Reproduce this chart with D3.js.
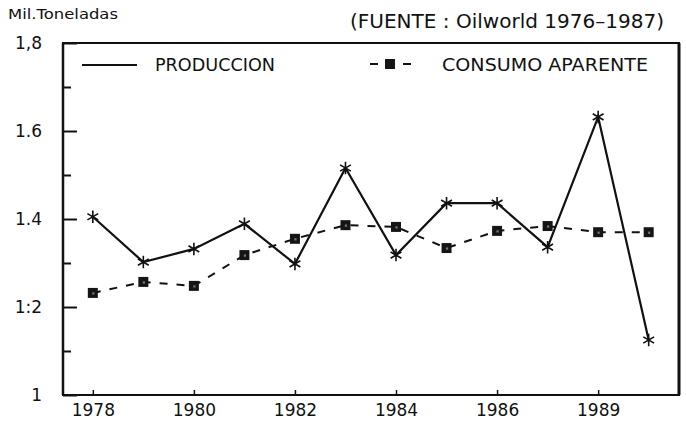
<!DOCTYPE html>
<html>
<head>
<meta charset="utf-8">
<script src="https://cdn.jsdelivr.net/npm/d3@7"></script>
<style>
  html, body { margin: 0; padding: 0; background: #fff; }
  svg { display: block; }
  text { font-family: "DejaVu Sans", sans-serif; fill: #111; }
</style>
</head>
<body>
<svg id="chart" width="686" height="423"></svg>
<script>
// ---- data ----
const years = [1978, 1979, 1980, 1981, 1982, 1983, 1984, 1985, 1986, 1987, 1988, 1989];
const produccion = [1.405, 1.302, 1.332, 1.389, 1.298, 1.516, 1.318, 1.436, 1.436, 1.336, 1.632, 1.125];
const consumo = [1.232, 1.257, 1.248, 1.318, 1.355, 1.386, 1.382, 1.334, 1.373, 1.384, 1.370, 1.370];
const xTickYears = [1978, 1980, 1982, 1984, 1986, 1988];
const xTickLabels = ["1978", "1980", "1982", "1984", "1986", "1989"];
const yMajorTicks = [1, 1.2, 1.4, 1.6, 1.8];
const yMajorLabels = ["1", "1:2", "1.4", "1.6", "1,8"];
const yMinorTicks = [1.1, 1.3, 1.5, 1.7];
const seriesNames = ["PRODUCCION", "CONSUMO APARENTE"];
const unitLabel = "Mil.Toneladas";
const sourceLabel = "(FUENTE : Oilworld 1976\u20131987)";

// ---- layout ----
const svg = d3.select("#chart");
const pL = 63, pR = 679, pT = 43, pB = 395;

const x = d3.scaleLinear().domain([1977.41, 1989.6]).range([pL, pR]);
const y = d3.scaleLinear().domain([1, 1.8]).range([pB, pT]);

// frame
svg.append("rect")
  .attr("x", pL).attr("y", pT)
  .attr("width", pR - pL).attr("height", pB - pT)
  .attr("fill", "none").attr("stroke", "#111").attr("stroke-width", 2);
svg.append("line").attr("x1", pR).attr("x2", pR).attr("y1", pT).attr("y2", pB)
  .attr("stroke", "#111").attr("stroke-width", 3);
svg.append("line").attr("x1", pL).attr("x2", pL).attr("y1", pT).attr("y2", pB)
  .attr("stroke", "#111").attr("stroke-width", 2.5);

// y axis major
const yAxis = d3.axisLeft(y)
  .tickValues(yMajorTicks)
  .tickSize(-14)
  .tickPadding(21)
  .tickFormat((d, i) => yMajorLabels[i]);
const gy = svg.append("g").attr("transform", `translate(${pL},0)`).call(yAxis);
gy.select(".domain").remove();
gy.selectAll(".tick line").attr("stroke", "#111").attr("stroke-width", 2);
gy.selectAll(".tick text").style("font-family", "DejaVu Sans, sans-serif").style("font-size", "17px").attr("fill", "#111");

// y axis minor
const yMinor = d3.axisLeft(y).tickValues(yMinorTicks).tickSize(-8).tickFormat("");
const gym = svg.append("g").attr("transform", `translate(${pL},0)`).call(yMinor);
gym.select(".domain").remove();
gym.selectAll(".tick line").attr("stroke", "#111").attr("stroke-width", 2);

// x axis
const xAxis = d3.axisBottom(x)
  .tickValues(xTickYears)
  .tickSize(-5)
  .tickPadding(9)
  .tickFormat((d, i) => xTickLabels[i]);
const gx = svg.append("g").attr("transform", `translate(0,${pB})`).call(xAxis);
gx.select(".domain").remove();
gx.selectAll(".tick line").attr("stroke", "#111").attr("stroke-width", 1.5);
gx.selectAll(".tick text").style("font-family", "DejaVu Sans, sans-serif").style("font-size", "17px").attr("fill", "#111");

// lines
const line = d3.line().x((d, i) => x(years[i])).y(d => y(d));

svg.append("path").datum(consumo)
  .attr("d", line).attr("fill", "none")
  .attr("stroke", "#111").attr("stroke-width", 2)
  .attr("stroke-dasharray", "8,9");

svg.append("path").datum(produccion)
  .attr("d", line).attr("fill", "none")
  .attr("stroke", "#111").attr("stroke-width", 2.2);

// markers
const star = d3.symbol().type(d3.symbolAsterisk).size(110);
svg.append("g").selectAll("path").data(produccion).join("path")
  .attr("transform", (d, i) => `translate(${x(years[i])},${y(d)})`)
  .attr("d", star).attr("fill", "none").attr("stroke", "#111").attr("stroke-width", 1.6);

const sq = d3.symbol().type(d3.symbolSquare).size(100);
const sqSmall = d3.symbol().type(d3.symbolSquare).size(5);
const gs = svg.append("g");
gs.selectAll("path.sq").data(consumo).join("path").attr("class", "sq")
  .attr("transform", (d, i) => `translate(${x(years[i])},${y(d)})`)
  .attr("d", sq).attr("fill", "#151515");
gs.selectAll("path.sqi").data(consumo).join("path").attr("class", "sqi")
  .attr("transform", (d, i) => `translate(${x(years[i]) + 0.5},${y(d) + 0.5})`)
  .attr("d", sqSmall).attr("fill", "#777");

// legend
const legY = 64;
svg.append("line").attr("x1", 82).attr("x2", 137).attr("y1", legY + 1).attr("y2", legY + 1)
  .attr("stroke", "#111").attr("stroke-width", 2);
svg.append("text").attr("x", 155).attr("y", legY + 6.5)
  .attr("textLength", 120).attr("lengthAdjust", "spacingAndGlyphs")
  .style("font-size", "18px").text(seriesNames[0]);

svg.append("line").attr("x1", 370).attr("x2", 412).attr("y1", legY).attr("y2", legY)
  .attr("stroke", "#111").attr("stroke-width", 2).attr("stroke-dasharray", "8,25");
svg.append("path").attr("transform", `translate(390,${legY})`)
  .attr("d", sq).attr("fill", "#151515");
svg.append("text").attr("x", 442).attr("y", legY + 6.5)
  .attr("textLength", 206).attr("lengthAdjust", "spacingAndGlyphs")
  .style("font-size", "18px").text(seriesNames[1]);

// titles
svg.append("text").attr("x", 8).attr("y", 19)
  .attr("textLength", 110).attr("lengthAdjust", "spacingAndGlyphs")
  .style("font-size", "14px").attr("fill", "#333").text(unitLabel);
svg.append("text").attr("x", 350).attr("y", 28)
  .attr("textLength", 314).attr("lengthAdjust", "spacingAndGlyphs")
  .style("font-size", "19px").text(sourceLabel);
</script>
</body>
</html>
